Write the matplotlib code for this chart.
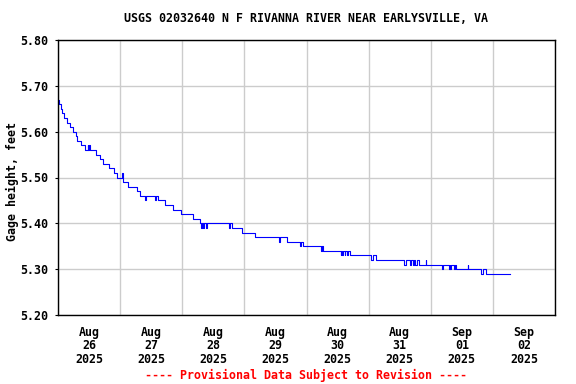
import numpy as np
import pandas as pd
import matplotlib
matplotlib.use('Agg')
import matplotlib.pyplot as plt
import matplotlib.dates as mdates

title = 'USGS 02032640 N F RIVANNA RIVER NEAR EARLYSVILLE, VA'
ylabel = 'Gage height, feet'
note = '---- Provisional Data Subject to Revision ----'
start = '2025-08-26 00:00'

# hours after Aug 26 00:00 and gage height (ft), step changes
t_hours = [0, 0.5, 1.25, 1.5, 2.25, 3.5, 4.75, 5.75, 7, 7.25, 9, 10.5, 11.5, 11.75, 12, 12.25,
           14.75, 16.25, 17.5, 19.75, 21.75, 22.75, 24.75, 25, 25.25, 27, 30.5, 31.75,
           33.75, 34, 37.5, 38, 38.5, 41.5, 44.5, 47.5, 52,
           55, 55.25, 55.5, 56, 56.25, 57, 57.5, 66.25, 66.5, 67.25, 71.25, 76,
           85.5, 85.75, 88.5, 93.5, 94, 94.75, 101.75, 102, 102.25,
           109.25, 109.5, 109.75, 110, 110.75, 111, 111.5, 112, 112.75,
           121, 121.5, 122.75,
           133.75, 134.25, 136, 136.5, 137, 137.5, 138, 138.5, 139.5, 142, 142.25,
           148.5, 148.75, 151, 151.25, 151.5, 151.75, 153, 153.25, 153.75, 158.25, 158.5,
           163.5, 164, 165.25, 174.75]
gage_ft = [5.67, 5.66, 5.65, 5.64, 5.63, 5.62, 5.61, 5.60, 5.59, 5.58, 5.57, 5.56, 5.57, 5.56, 5.57, 5.56,
           5.55, 5.54, 5.53, 5.52, 5.51, 5.50, 5.51, 5.50, 5.49, 5.48, 5.47, 5.46,
           5.45, 5.46, 5.45, 5.46, 5.45, 5.44, 5.43, 5.42, 5.41,
           5.40, 5.39, 5.40, 5.39, 5.40, 5.39, 5.40, 5.39, 5.40, 5.39, 5.38, 5.37,
           5.36, 5.37, 5.36, 5.35, 5.36, 5.35, 5.34, 5.35, 5.34,
           5.33, 5.34, 5.33, 5.34, 5.33, 5.34, 5.33, 5.34, 5.33,
           5.32, 5.33, 5.32,
           5.31, 5.32, 5.31, 5.32, 5.31, 5.32, 5.31, 5.32, 5.31, 5.32, 5.31,
           5.30, 5.31, 5.30, 5.31, 5.30, 5.31, 5.30, 5.31, 5.30, 5.31, 5.30,
           5.29, 5.30, 5.29, 5.29]

yticks = [5.20, 5.30, 5.40, 5.50, 5.60, 5.70, 5.80]

times = pd.Timestamp(start) + pd.to_timedelta(t_hours, unit='h')

plt.rcParams['font.family'] = 'DejaVu Sans Mono'
plt.rcParams['font.weight'] = 'bold'
fs = 8.4

fig = plt.figure(figsize=(5.76, 3.84), dpi=100)
ax = fig.add_axes([58/576, 1-315/384, (555-58)/576, (315-40)/384])

ax.plot(times, gage_ft, color='#0000ff', lw=0.8, drawstyle='steps-post')

ax.set_xlim(pd.Timestamp('2025-08-26'), pd.Timestamp('2025-09-03'))
ax.set_ylim(5.20, 5.80)
ax.set_yticks(yticks)
ax.set_yticklabels(['%.2f' % v for v in yticks], fontsize=fs, fontweight='bold')

ax.xaxis.set_major_locator(mdates.DayLocator())
ax.xaxis.set_major_formatter(plt.NullFormatter())
ax.xaxis.set_minor_locator(mdates.HourLocator(byhour=[12]))
ax.xaxis.set_minor_formatter(mdates.DateFormatter('%b\n%d\n%Y'))
ax.tick_params(axis='x', which='both', length=0)
ax.tick_params(axis='x', which='minor', labelsize=fs, pad=8)
ax.tick_params(axis='y', length=2, width=0.8, pad=5)
for lbl in ax.get_xticklabels(minor=True):
    lbl.set_fontweight('bold')
    lbl.set_linespacing(1.02)

ax.grid(True, which='major', color='#cccccc', lw=1)
ax.set_axisbelow(True)
for s in ax.spines.values():
    s.set_linewidth(1)

fig.text(12/576, 1-181/384, ylabel, rotation=90, ha='center', va='center', fontsize=fs, fontweight='bold')
fig.text(306/576, 1-19/384, title, ha='center', va='center', fontsize=fs, fontweight='bold')
fig.text(306/576, 1-375/384, note, ha='center', va='center', fontsize=fs, fontweight='bold', color='red')

fig.savefig('out.png', dpi=100)
